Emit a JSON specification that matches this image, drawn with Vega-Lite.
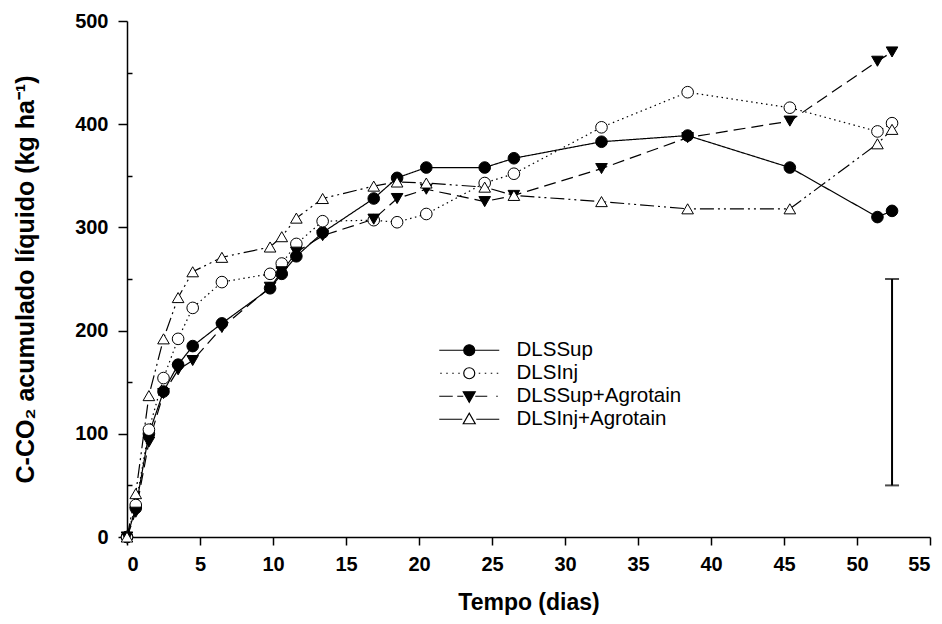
{
  "$schema": "https://vega.github.io/schema/vega-lite/v6.json",
  "width": 803,
  "height": 516,
  "autosize": {"type": "none"},
  "padding": {"left": 127, "top": 21, "right": 12, "bottom": 87},
  "background": "white",
  "config": {
    "view": {"stroke": null},
    "font": "Liberation Sans",
    "axis": {"grid": false, "domainColor": "black", "tickColor": "black", "labelColor": "black", "titleColor": "black", "domainWidth": 1.5, "tickWidth": 1.5, "labelFont": "Liberation Sans", "titleFont": "Liberation Sans", "labelFontWeight": "bold", "titleFontWeight": "bold"},
    "legend": {"orient": "none", "legendX": 332, "legendY": 319, "title": null, "symbolSize": 100, "labelOffset": 37, "labelFontSize": 20.5, "labelFont": "Liberation Sans", "labelColor": "black", "labelLimit": 400, "rowPadding": 2, "symbolStrokeWidth": 1.2, "symbolStrokeColor": "black", "symbolOpacity": 1}
  },
  "datasets": {
    "series": [
      {"series": "DLSSup", "day": 0, "value": 0},
      {"series": "DLSSup", "day": 0.6, "value": 28},
      {"series": "DLSSup", "day": 1.5, "value": 100},
      {"series": "DLSSup", "day": 2.5, "value": 141},
      {"series": "DLSSup", "day": 3.5, "value": 167},
      {"series": "DLSSup", "day": 4.5, "value": 185},
      {"series": "DLSSup", "day": 6.5, "value": 207},
      {"series": "DLSSup", "day": 9.8, "value": 241},
      {"series": "DLSSup", "day": 10.6, "value": 255},
      {"series": "DLSSup", "day": 11.6, "value": 272},
      {"series": "DLSSup", "day": 13.4, "value": 295},
      {"series": "DLSSup", "day": 16.9, "value": 328},
      {"series": "DLSSup", "day": 18.5, "value": 348},
      {"series": "DLSSup", "day": 20.5, "value": 358},
      {"series": "DLSSup", "day": 24.5, "value": 358},
      {"series": "DLSSup", "day": 26.5, "value": 367},
      {"series": "DLSSup", "day": 32.5, "value": 383},
      {"series": "DLSSup", "day": 38.4, "value": 389},
      {"series": "DLSSup", "day": 45.4, "value": 358},
      {"series": "DLSSup", "day": 51.4, "value": 310},
      {"series": "DLSSup", "day": 52.4, "value": 316},
      {"series": "DLSInj", "day": 0, "value": 0},
      {"series": "DLSInj", "day": 0.6, "value": 31},
      {"series": "DLSInj", "day": 1.5, "value": 104},
      {"series": "DLSInj", "day": 2.5, "value": 154},
      {"series": "DLSInj", "day": 3.5, "value": 192},
      {"series": "DLSInj", "day": 4.5, "value": 222},
      {"series": "DLSInj", "day": 6.5, "value": 247},
      {"series": "DLSInj", "day": 9.8, "value": 255},
      {"series": "DLSInj", "day": 10.6, "value": 265},
      {"series": "DLSInj", "day": 11.6, "value": 284},
      {"series": "DLSInj", "day": 13.4, "value": 306},
      {"series": "DLSInj", "day": 16.9, "value": 307},
      {"series": "DLSInj", "day": 18.5, "value": 305},
      {"series": "DLSInj", "day": 20.5, "value": 313},
      {"series": "DLSInj", "day": 24.5, "value": 343},
      {"series": "DLSInj", "day": 26.5, "value": 352},
      {"series": "DLSInj", "day": 32.5, "value": 397},
      {"series": "DLSInj", "day": 38.4, "value": 431},
      {"series": "DLSInj", "day": 45.4, "value": 416},
      {"series": "DLSInj", "day": 51.4, "value": 393},
      {"series": "DLSInj", "day": 52.4, "value": 401},
      {"series": "DLSSup+Agrotain", "day": 0, "value": 0},
      {"series": "DLSSup+Agrotain", "day": 0.6, "value": 24},
      {"series": "DLSSup+Agrotain", "day": 1.5, "value": 92},
      {"series": "DLSSup+Agrotain", "day": 2.5, "value": 139},
      {"series": "DLSSup+Agrotain", "day": 3.5, "value": 162},
      {"series": "DLSSup+Agrotain", "day": 4.5, "value": 171},
      {"series": "DLSSup+Agrotain", "day": 6.5, "value": 203},
      {"series": "DLSSup+Agrotain", "day": 9.8, "value": 242},
      {"series": "DLSSup+Agrotain", "day": 10.6, "value": 257},
      {"series": "DLSSup+Agrotain", "day": 11.6, "value": 276},
      {"series": "DLSSup+Agrotain", "day": 13.4, "value": 292},
      {"series": "DLSSup+Agrotain", "day": 16.9, "value": 308},
      {"series": "DLSSup+Agrotain", "day": 18.5, "value": 328},
      {"series": "DLSSup+Agrotain", "day": 20.5, "value": 337},
      {"series": "DLSSup+Agrotain", "day": 24.5, "value": 325},
      {"series": "DLSSup+Agrotain", "day": 26.5, "value": 331},
      {"series": "DLSSup+Agrotain", "day": 32.5, "value": 357},
      {"series": "DLSSup+Agrotain", "day": 38.4, "value": 387},
      {"series": "DLSSup+Agrotain", "day": 45.4, "value": 403},
      {"series": "DLSSup+Agrotain", "day": 51.4, "value": 461},
      {"series": "DLSSup+Agrotain", "day": 52.4, "value": 470},
      {"series": "DLSInj+Agrotain", "day": 0, "value": 0},
      {"series": "DLSInj+Agrotain", "day": 0.6, "value": 42},
      {"series": "DLSInj+Agrotain", "day": 1.5, "value": 137},
      {"series": "DLSInj+Agrotain", "day": 2.5, "value": 192},
      {"series": "DLSInj+Agrotain", "day": 3.5, "value": 232},
      {"series": "DLSInj+Agrotain", "day": 4.5, "value": 257},
      {"series": "DLSInj+Agrotain", "day": 6.5, "value": 271},
      {"series": "DLSInj+Agrotain", "day": 9.8, "value": 281},
      {"series": "DLSInj+Agrotain", "day": 10.6, "value": 291},
      {"series": "DLSInj+Agrotain", "day": 11.6, "value": 309},
      {"series": "DLSInj+Agrotain", "day": 13.4, "value": 328},
      {"series": "DLSInj+Agrotain", "day": 16.9, "value": 340},
      {"series": "DLSInj+Agrotain", "day": 18.5, "value": 344},
      {"series": "DLSInj+Agrotain", "day": 20.5, "value": 343},
      {"series": "DLSInj+Agrotain", "day": 24.5, "value": 339},
      {"series": "DLSInj+Agrotain", "day": 26.5, "value": 331},
      {"series": "DLSInj+Agrotain", "day": 32.5, "value": 325},
      {"series": "DLSInj+Agrotain", "day": 38.4, "value": 318},
      {"series": "DLSInj+Agrotain", "day": 45.4, "value": 318},
      {"series": "DLSInj+Agrotain", "day": 51.4, "value": 381},
      {"series": "DLSInj+Agrotain", "day": 52.4, "value": 395}
    ],
    "errbar": [
      {"day": 52.4, "lo": 50, "hi": 250}
    ],
    "errcaps": [
      {"day": 52.4, "value": 50},
      {"day": 52.4, "value": 250}
    ]
  },
  "resolve": {"scale": {"shape": "independent", "fill": "independent", "stroke": "independent"}},
  "layer": [
    {
      "data": {"name": "series"},
      "mark": {"type": "line", "color": "black", "strokeWidth": 1.2, "clip": false},
      "encoding": {
        "x": {"field": "day", "type": "quantitative", "scale": {"domain": [0, 55], "nice": false, "zero": false},
          "axis": {"title": "Tempo (dias)", "values": [0,5,10,15,20,25,30,35,40,45,50,55], "tickSize": 8, "labelFontSize": 20, "labelPadding": 9, "titleFontSize": 23, "titlePadding": 17}},
        "y": {"field": "value", "type": "quantitative", "scale": {"domain": [0, 500], "nice": false},
          "axis": {"title": "C-CO₂ acumulado líquido (kg ha⁻¹)", "values": [0,50,100,150,200,250,300,350,400,450,500],
            "labelExpr": "datum.value % 100 === 0 ? datum.label : ''",
            "tickSize": {"condition": {"test": "datum.value % 100 === 0", "value": 9}, "value": -5},
            "labelFontSize": 20, "labelPadding": 10, "titleFontSize": 25, "titlePadding": 36}},
        "detail": {"field": "series"},
        "strokeDash": {"field": "series", "type": "nominal",
          "scale": {"domain": ["DLSInj+Agrotain", "DLSSup+Agrotain", "DLSInj", "DLSSup"], "range": [[14, 4, 2, 4, 2, 4], [12, 6], [1.5, 3.5], [1, 0]]},
          "legend": null}
      }
    },
    {
      "data": {"name": "series"},
      "mark": {"type": "point", "filled": true, "stroke": "black", "strokeWidth": 1, "opacity": 1, "clip": false},
      "encoding": {
        "x": {"field": "day", "type": "quantitative"},
        "y": {"field": "value", "type": "quantitative"},
        "size": {"field": "series", "type": "nominal",
          "scale": {"domain": ["DLSSup+Agrotain", "DLSInj+Agrotain", "DLSSup", "DLSInj"], "range": [135, 135, 105, 105]},
          "legend": null},
        "fill": {"field": "series", "type": "nominal",
          "scale": {"domain": ["DLSInj", "DLSSup", "DLSInj+Agrotain", "DLSSup+Agrotain"], "range": ["white", "black", "white", "black"]},
          "legend": null},
        "shape": {"field": "series", "type": "nominal",
          "scale": {"domain": ["DLSInj", "DLSSup", "DLSInj+Agrotain", "DLSSup+Agrotain"], "range": ["circle", "circle", "triangle-up", "triangle-down"]},
          "legend": null}
      }
    },
    {
      "data": {"name": "series"},
      "mark": {"type": "point", "filled": true, "strokeWidth": 1.2, "opacity": 0, "size": 100},
      "encoding": {
        "x": {"field": "day", "type": "quantitative"},
        "y": {"field": "value", "type": "quantitative"},
        "stroke": {"field": "series", "type": "nominal",
          "scale": {"domain": ["DLSSup", "DLSInj", "DLSSup+Agrotain", "DLSInj+Agrotain"], "range": ["black", "black", "black", "black"]},
          "legend": {}},
        "fill": {"field": "series", "type": "nominal",
          "scale": {"domain": ["DLSSup", "DLSInj", "DLSSup+Agrotain", "DLSInj+Agrotain"], "range": ["black", "white", "black", "white"]},
          "legend": {}},
        "shape": {"field": "series", "type": "nominal",
          "scale": {"domain": ["DLSSup", "DLSInj", "DLSSup+Agrotain", "DLSInj+Agrotain"],
            "range": [
              "M-6,0H6M-1.1,0A1.1,1.1,0,1,1,1.1,0A1.1,1.1,0,1,1,-1.1,0Z",
              "M-5.8,0h0.3M-4.6,0h0.3M-3.4,0h0.3M-2.2,0h0.3M1.9,0h0.3M3.1,0h0.3M4.3,0h0.3M5.5,0h0.3M-1.1,0A1.1,1.1,0,1,1,1.1,0A1.1,1.1,0,1,1,-1.1,0Z",
              "M-6,0H-3.3M-2.4,0H-1.2M1.2,0H3.6M5.4,0H5.7M-1.2,-0.9L1.2,-0.9L0,1.2Z",
              "M-6,0H-1.4M1.4,0H6M-1.2,0.9L1.2,0.9L0,-1.2Z"
            ]},
          "legend": {}}
      }
    },
    {
      "data": {"name": "errbar"},
      "mark": {"type": "rule", "color": "black", "strokeWidth": 2},
      "encoding": {
        "x": {"field": "day", "type": "quantitative"},
        "y": {"field": "lo", "type": "quantitative"},
        "y2": {"field": "hi"}
      }
    },
    {
      "data": {"name": "errcaps"},
      "mark": {"type": "tick", "orient": "horizontal", "color": "black", "size": 14, "thickness": 2},
      "encoding": {
        "x": {"field": "day", "type": "quantitative"},
        "y": {"field": "value", "type": "quantitative"}
      }
    }
  ]
}
